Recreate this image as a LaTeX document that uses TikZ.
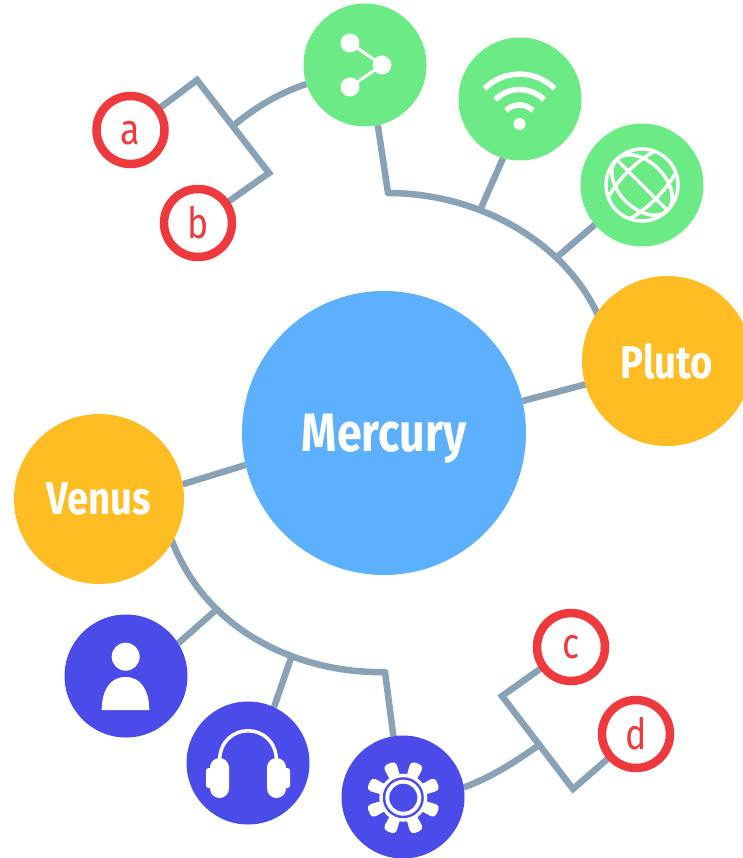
\documentclass[tikz,border=0pt]{standalone}
\usepackage{fontspec}
\setmainfont{Fira Sans}[FakeStretch=0.83]
\usetikzlibrary{backgrounds}
\definecolor{skyblue}{HTML}{5CB0FD}
\definecolor{amber}{HTML}{FDBD23}
\definecolor{mint}{HTML}{6BEA85}
\definecolor{indigo}{HTML}{4A4BE8}
\definecolor{redring}{HTML}{EE3A3C}
\definecolor{slateline}{HTML}{8AA2B5}
\tikzset{
  hub/.style={circle, fill=#1, inner sep=0pt, outer sep=0pt, text=white, text depth=0pt},
  iconnode/.style={circle, fill=#1, minimum size=123pt, inner sep=0pt, outer sep=0pt},
  ringnode/.style={circle, draw=redring, line width=8.5pt, fill=white, minimum size=68pt, inner sep=0pt, outer sep=0pt, text=redring, font=\fontsize{43}{43}\selectfont},
  link/.style={slateline, line width=6.5pt},
  glyph/.style={white, line width=3.5pt}
}
\begin{document}
\begin{tikzpicture} [x=1pt, y=-1pt]
\useasboundingbox (0, 0) rectangle (742, 858);
\node[hub=skyblue, minimum size=284pt, font=\bfseries\fontsize{54}{54}\selectfont] (mercury) at (384, 433){Mercury};
\node[hub=amber, minimum size=170pt, font=\bfseries\fontsize{46}{46}\selectfont] (pluto) at (667, 361){Pluto};
\node[hub=amber, minimum size=170pt, font=\bfseries\fontsize{46}{46}\selectfont] (venus) at (99, 499){Venus};
\node[iconnode=mint] (share) at (365, 65){};
\node[iconnode=mint] (wifi) at (520, 99){};
\node[iconnode=mint] (globe) at (642, 185){};
\node[iconnode=indigo] (user) at (126, 676){};
\node[iconnode=indigo] (headset) at (248, 763){};
\node[iconnode=indigo] (gear) at (403, 797){};
\node[ringnode, text height=30pt, text depth=0pt] (a) at (130.5, 130){a};
\node[ringnode] (b) at (198, 223){b};
\node[ringnode] (c) at (571, 647){c};
\node[ringnode] (d) at (636, 734){d};
\coordinate (topcorner) at (388, 193);
\coordinate (topend) at (604, 330);
\coordinate (wifijoin) at (481, 208);
\coordinate (globejoin) at (556, 258);
\coordinate (lowcorner) at (385, 672);
\coordinate (lowend) at (168, 530);
\coordinate (headjoin) at (291.5, 656.5);
\coordinate (userjoin) at (217, 609);
\coordinate (apeak) at (197, 80);
\coordinate (bpeak) at (269, 173);
\coordinate (cpeak) at (502, 696);
\coordinate (dpeak) at (573, 789);
\coordinate (abjoin) at (233, 126);
\coordinate (cdjoin) at (539, 745);
\begin{scope}[on background layer]
\draw[link] (mercury.13) -- (pluto.196);
\draw[link] (mercury.193.5) -- (venus.10);
\draw[link, line join=round] (share.282) -- (topcorner) .. controls (483, 193) and (575, 247) .. (topend);
\draw[link, line join=round] (gear.99) -- (lowcorner) .. controls (315, 674) and (205, 642) .. (lowend);
\draw[link] (wifi.254) -- (wifijoin);
\draw[link] (globe.220) -- (globejoin);
\draw[link] (headset.65) -- (headjoin);
\draw[link] (user.32) -- (userjoin);
\draw[link] (a) -- (apeak) -- (bpeak) -- (b);
\draw[link] (c) -- (cpeak) -- (dpeak) -- (d);
\draw[link] (abjoin) .. controls (258, 105) and (282, 92) .. (share.198);
\draw[link] (cdjoin) .. controls (515, 762) and (490, 778) .. (gear.9);
\end{scope}
\fill[white] (350, 43) circle (9.5);
\fill[white] (382, 65) circle (9.5);
\fill[white] (350, 87) circle (9.5);
\draw[glyph, line width=3pt] (350, 43) -- (382, 65) -- (350, 87);
\fill[white] (519.5, 124) circle (6);
\draw[glyph, line width=5.5pt] (484.6, 88.6) arc[start angle=225, end angle=315, radius=49.5];
\draw[glyph, line width=5.5pt] (495.2, 99.7) arc[start angle=225, end angle=315, radius=34.5];
\draw[glyph, line width=5.5pt] (506, 110.5) arc[start angle=225, end angle=315, radius=19];
\draw[glyph] (642, 185) circle (36);
\begin{scope}[shift={(642, 185)}, rotate=-45]
\draw[glyph] (-36, 0) -- (36, 0);
\draw[glyph] (0, 0) ellipse (36 and 23);
\draw[glyph] (-15, -33) .. controls (-21, -12) and (-21, 12) .. (-15, 33);
\draw[glyph] (15, -33) .. controls (21, -12) and (21, 12) .. (15, 33);
\end{scope}
\fill[white] (125.7, 656.7) circle (14);
\fill[white] (101.7, 710) .. controls (102, 690) and (110, 677) .. (125.5, 677) .. controls (141, 677) and (149, 690) .. (149.3, 710) -- cycle;
\draw[glyph] (219.5, 760) .. controls (221, 721) and (275, 721) .. (276.5, 760);
\fill[white, rounded corners=9.5pt] (210, 758) rectangle (229, 798);
\fill[white, rounded corners=9.5pt] (267, 758) rectangle (286, 798);
\fill[white, rounded corners=2.5pt] (206, 768) rectangle (214, 788);
\fill[white, rounded corners=2.5pt] (282, 768) rectangle (290, 788);
\foreach \toothangle in {22.5, 67.5, ..., 337.5} {
  \begin{scope}[shift={(403.3, 797.7)}, rotate=\toothangle]
  \fill[white, rounded corners=4.5pt] (18, -5) -- (37, -7) -- (37, 7) -- (18, 5) -- cycle;
  \end{scope}
}
\fill[white] (403.3, 797.7) circle (24);
\fill[indigo] (403.3, 797.7) circle (20.5);
\fill[white] (403.3, 797.7) circle (18);
\fill[indigo] (403.3, 797.7) circle (14);
\end{tikzpicture}
\end{document}
